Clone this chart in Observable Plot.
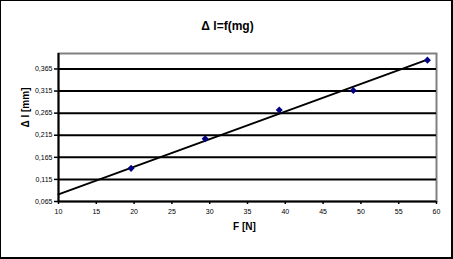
<!DOCTYPE html>
<html><head><meta charset="utf-8">
<script src="https://cdn.jsdelivr.net/npm/d3@7"></script>
<script src="https://cdn.jsdelivr.net/npm/@observablehq/plot@0.6"></script>
<style>
body{margin:0;background:#fff}
#wrap{position:relative;width:453px;height:259px}
#border{position:absolute;left:0;top:0;width:453px;height:259px;box-sizing:border-box;border-style:solid;border-color:#000;border-width:1px 2px 2px 1px;pointer-events:none}
</style></head><body><div id="wrap"><div id="border"></div></div>
<script>
const forceN = [19.6, 29.4, 39.2, 49.0, 58.8];
const elongation = [0.14, 0.207, 0.272, 0.316, 0.385];
const trendX = [10, 58.8];
const trendY = [0.081, 0.386];
const xTicks = [10, 15, 20, 25, 30, 35, 40, 45, 50, 55, 60];
const yTicks = [0.065, 0.115, 0.165, 0.215, 0.265, 0.315, 0.365];
const title = "Δ l=f(mg)";
const xLabel = "F [N]";
const yLabel = "Δ l [mm]";

const points = forceN.map((x, i) => ({x, y: elongation[i]}));
const trend = trendX.map((x, i) => ({x, y: trendY[i]}));
const font = "Arial, 'Liberation Sans', sans-serif";

const chart = Plot.plot({
  width: 453, height: 259,
  marginLeft: 58, marginRight: 17, marginTop: 53, marginBottom: 58,
  style: {fontFamily: font, background: "white", overflow: "visible", color: "black"},
  x: {domain: [10, 60]},
  y: {domain: [0.065, 0.4]},
  marks: [
    Plot.frame({stroke: "#808080", strokeWidth: 2}),
    Plot.ruleY(yTicks.slice(1), {stroke: "black", strokeWidth: 2}),
    Plot.axisX({ticks: xTicks, tickSize: 3, tickPadding: 5, fontSize: 7, label: null, tickFormat: d => String(d), strokeWidth: 1.5}),
    Plot.axisY({ticks: yTicks, tickSize: 4, tickPadding: 2, fontSize: 7, label: null, tickFormat: d => d.toFixed(3).replace(".", ","), strokeWidth: 1.5}),
    Plot.ruleX([10], {stroke: "black", strokeWidth: 2}),
    Plot.ruleY([0.065], {stroke: "black", strokeWidth: 2}),
    Plot.line(trend, {x: "x", y: "y", stroke: "black", strokeWidth: 2}),
    Plot.dot(points, {x: "x", y: "y", symbol: "square", rotate: 45, fill: "#000080", r: 2.8}),
    Plot.text([title], {text: d => d, frameAnchor: "top", dy: -32, dx: -20, fontSize: 12, fontWeight: "bold"}),
    Plot.text([xLabel], {text: d => d, frameAnchor: "bottom", dy: 28, dx: -3, fontSize: 10, fontWeight: "bold"}),
    Plot.text([yLabel], {text: d => d, frameAnchor: "left", dx: -33, rotate: -90, fontSize: 10, fontWeight: "bold"})
  ]
});
document.getElementById("wrap").prepend(chart);
</script></body></html>
